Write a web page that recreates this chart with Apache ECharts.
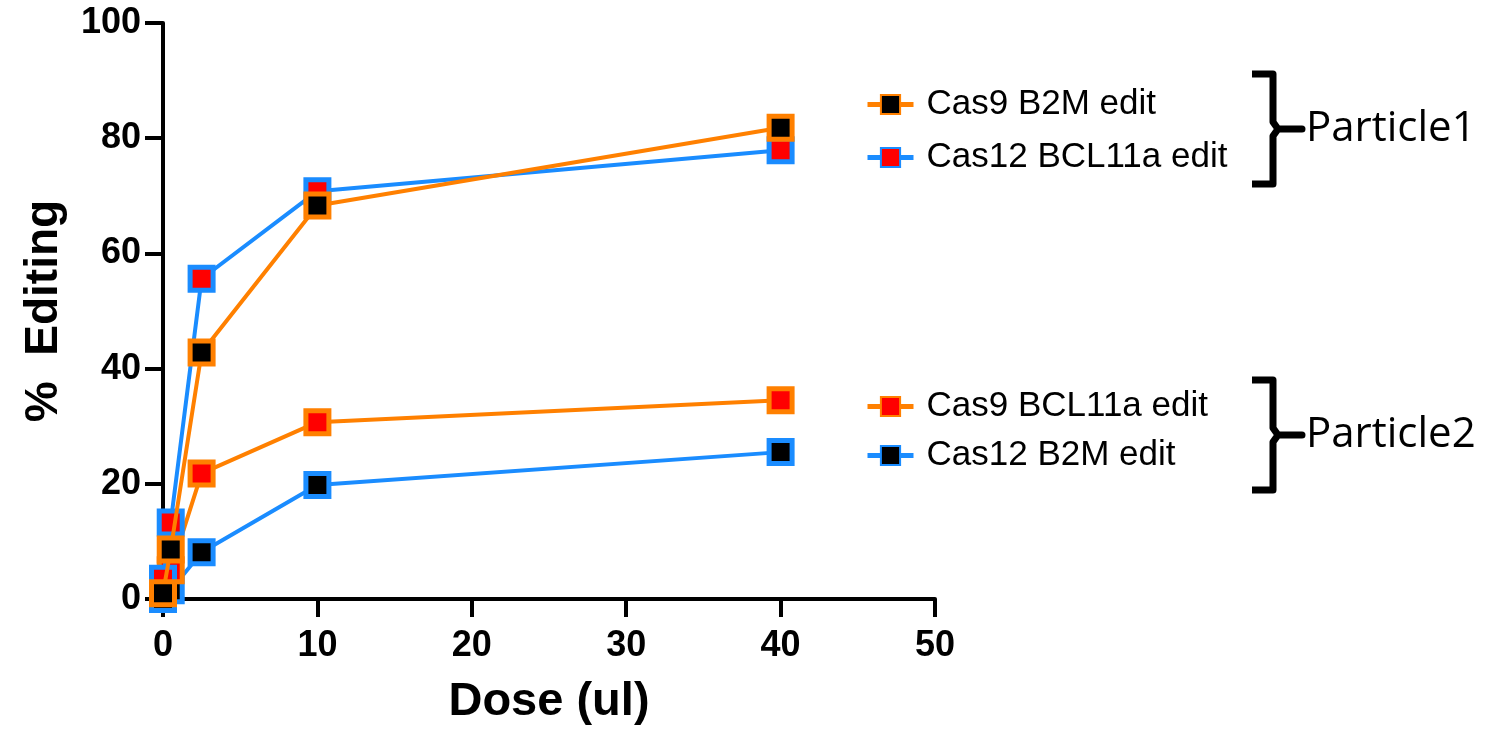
<!DOCTYPE html>
<html>
<head>
<meta charset="utf-8">
<script src="https://cdn.jsdelivr.net/npm/echarts@6/dist/echarts.min.js"></script>
<style>
html, body { margin: 0; padding: 0; background: #fff; }
#chart { width: 1496px; height: 731px; }
</style>
</head>
<body>
<div id="chart"></div>
<script>
// dose (ul) on the x axis
var doses = [0, 0.5, 2.5, 10, 40];
// % editing per series
var cas9B2M = [1, 8.6, 42.8, 68.3, 81.8];
var cas12BCL11a = [3.5, 13.3, 55.6, 70.8, 77.9];
var cas9BCL11a = [2, 5, 21.8, 30.7, 34.5];
var cas12B2M = [0, 1.5, 8.1, 19.8, 25.5];
var groupNames = ['Particle1', 'Particle2'];

function pairs(ys) {
    var out = [];
    for (var i = 0; i < doses.length; i++) {
        out.push([doses[i], ys[i]]);
    }
    return out;
}

function lineSeries(name, ys, lineColor, fill, z) {
    return {
        name: name,
        type: 'line',
        data: pairs(ys),
        z: z,
        symbol: 'rect',
        symbolSize: 23,
        lineStyle: { color: lineColor, width: 4 },
        itemStyle: { color: fill, borderColor: lineColor, borderWidth: 5 },
        emphasis: { disabled: true }
    };
}

function brace(top, bottom) {
    var mid = (top + bottom) / 2;
    return {
        type: 'polyline',
        shape: { points: [[1252, top], [1273, top], [1273, mid - 7], [1278, mid], [1302, mid], [1278, mid], [1273, mid + 7], [1273, bottom], [1252, bottom]] },
        style: { stroke: '#000', lineWidth: 7, fill: null, lineJoin: 'round' }
    };
}

function groupLabel(text, y) {
    return {
        type: 'text', x: 1306, y: y,
        style: { text: text, fontSize: 42, fill: '#000', verticalAlign: 'middle', fontFamily: '"Open Sans", "Noto Sans", sans-serif' }
    };
}

var fontFam = '"Liberation Sans", Arial, sans-serif';
var legendText = { fontSize: 35, color: '#000', fontFamily: fontFam, padding: [0, 0, 0, 8] };

var chart = echarts.init(document.getElementById('chart'));
chart.setOption({
    animation: false,
    grid: { left: 163, right: 561, top: 23, bottom: 128 },
    xAxis: {
        type: 'value',
        min: 0,
        max: 50,
        interval: 10,
        name: 'Dose (ul)',
        nameLocation: 'middle',
        nameGap: 80,
        nameTextStyle: { fontSize: 47, fontWeight: 'bold', color: '#000', fontFamily: fontFam },
        axisLine: { lineStyle: { color: '#000', width: 4 } },
        axisTick: { length: 18, lineStyle: { color: '#000', width: 4 } },
        axisLabel: { fontSize: 36, fontWeight: 'bold', color: '#000', fontFamily: fontFam, margin: 29 },
        splitLine: { show: false }
    },
    yAxis: {
        type: 'value',
        min: 0,
        max: 100,
        interval: 20,
        name: '%  Editing',
        nameLocation: 'middle',
        nameRotate: 90,
        nameGap: 96,
        nameTextStyle: { fontSize: 46, fontWeight: 'bold', color: '#000', fontFamily: fontFam },
        axisLine: { lineStyle: { color: '#000', width: 4 } },
        axisTick: { length: 18, lineStyle: { color: '#000', width: 4 } },
        axisLabel: { fontSize: 36, fontWeight: 'bold', color: '#000', fontFamily: fontFam, margin: 22 },
        splitLine: { show: false }
    },
    legend: [{
        orient: 'vertical',
        left: 860,
        top: 82,
        itemWidth: 46,
        itemHeight: 24,
        itemGap: 18,
        lineStyle: { width: 5 },
        textStyle: legendText,
        data: ['Cas9 B2M edit', 'Cas12 BCL11a edit']
    }, {
        orient: 'vertical',
        left: 860,
        top: 384,
        itemWidth: 46,
        itemHeight: 24,
        itemGap: 14,
        lineStyle: { width: 5 },
        textStyle: legendText,
        data: ['Cas9 BCL11a edit', 'Cas12 B2M edit']
    }],
    graphic: [
        brace(74, 184),
        groupLabel(groupNames[0], 129),
        brace(380, 490),
        groupLabel(groupNames[1], 435)
    ],
    series: [
        lineSeries('Cas12 B2M edit', cas12B2M, '#1a8cff', '#000', 2),
        lineSeries('Cas9 BCL11a edit', cas9BCL11a, '#ff8000', '#ff0000', 3),
        lineSeries('Cas12 BCL11a edit', cas12BCL11a, '#1a8cff', '#ff0000', 4),
        lineSeries('Cas9 B2M edit', cas9B2M, '#ff8000', '#000', 5)
    ]
});
</script>
</body>
</html>
